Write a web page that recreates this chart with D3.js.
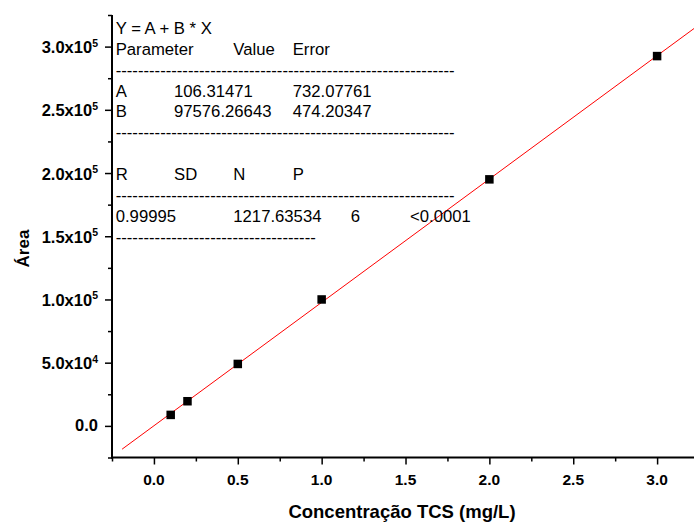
<!DOCTYPE html>
<html><head><meta charset="utf-8">
<script src="https://cdn.jsdelivr.net/npm/d3@7"></script>
<style>
body{margin:0;background:#fff;}
svg{display:block;font-family:Arial,"Liberation Sans",sans-serif;}
</style></head>
<body><svg id="c" width="694" height="523"></svg>
<script>
// ---- data ----
const concentration = [0.1, 0.2, 0.5, 1.0, 2.0, 3.0];
const area = [8700, 19500, 49000, 100000, 195000, 292500];
const fitA = 106.31471, fitB = 97576.26643;
const fitRange = [-0.19, 3.25];
const xTicks = [0.0, 0.5, 1.0, 1.5, 2.0, 2.5, 3.0];
const xTickLabels = ["0.0","0.5","1.0","1.5","2.0","2.5","3.0"];
const yTicks = [0, 50000, 100000, 150000, 200000, 250000, 300000];
const yTickMain = ["0.0","5.0x10","1.0x10","1.5x10","2.0x10","2.5x10","3.0x10"];
const yTickExp = ["","4","5","5","5","5","5"];
const boxHeader = ["Parameter","Value","Error"];
const paramNames = ["A","B"];
const paramValues = ["106.31471","97576.26643"];
const paramErrors = ["732.07761","474.20347"];
const statHeader = ["R","SD","N","P"];
const statValues = ["0.99995","1217.63534","6","<0.0001"];

const svg = d3.select("#c");
const L=112, R=694, T=15, B=457.5;
const x = d3.scaleLinear().domain([-0.25, 3.22]).range([L, R]);
const y = d3.scaleLinear().domain([-25000, 325000]).range([B, T]);

svg.append("defs").append("clipPath").attr("id","clip")
  .append("rect").attr("x",L).attr("y",0).attr("width",R-L).attr("height",B);

// axes
const xAxis = d3.axisBottom(x).tickValues(d3.range(-0.25,3.21,0.25)).tickSize(4).tickFormat("");
const gx = svg.append("g").attr("transform",`translate(0,${B})`).call(xAxis);
gx.select(".domain").remove();
gx.selectAll(".tick line").attr("stroke","#000").attr("stroke-width",1.5)
  .attr("y2", d => Math.abs(d*2 - Math.round(d*2))<1e-6 ? 7 : 4);
svg.append("line").attr("x1",L-1).attr("x2",R).attr("y1",B).attr("y2",B).attr("stroke","#000").attr("stroke-width",2);

const yAxis = d3.axisLeft(y).tickValues(d3.range(-25000,325001,25000)).tickSize(4).tickFormat("");
const gy = svg.append("g").attr("transform",`translate(${L},0)`).call(yAxis);
gy.select(".domain").remove();
gy.selectAll(".tick line").attr("stroke","#000").attr("stroke-width",1.5)
  .attr("x2", d => (d % 50000 === 0) ? -7 : -4);
svg.append("line").attr("x1",L).attr("x2",L).attr("y1",T).attr("y2",B+1).attr("stroke","#000").attr("stroke-width",2);

// x tick labels
svg.append("g").selectAll("text").data(xTicks).join("text")
  .attr("x", d=>x(d)).attr("y", B+27.5).attr("text-anchor","middle")
  .attr("font-size",15.5).attr("font-weight","bold").text((d,i)=>xTickLabels[i]);

// y tick labels
const yl = svg.append("g").selectAll("text").data(yTicks).join("text")
  .attr("x", 98).attr("y", (d,i)=> y(d) + (yTickExp[i] ? 6.5 : 5)).attr("text-anchor","end")
  .attr("font-size",16.5).attr("font-weight","bold");
yl.append("tspan").text((d,i)=>yTickMain[i]);
yl.append("tspan").attr("dy",-6.5).attr("font-size",10.5).text((d,i)=>yTickExp[i]);

// axis titles
svg.append("text").attr("x",(L+R)/2 - 1).attr("y",517.5).attr("text-anchor","middle")
  .attr("font-size",18.5).attr("font-weight","bold").text("Concentração TCS (mg/L)");
svg.append("text").attr("transform","translate(28.5,248.5) rotate(-90)").attr("text-anchor","middle")
  .attr("font-size",17).attr("font-weight","bold").text("Área");

// fit line
const line = d3.line().x(d=>x(d)).y(d=>y(fitA + fitB*d));
svg.append("path").attr("clip-path","url(#clip)").attr("d", line(fitRange))
  .attr("fill","none").attr("stroke","#ff0000").attr("stroke-width",1);

// points
svg.append("g").selectAll("rect").data(concentration).join("rect")
  .attr("x", d=>x(d)-4.25).attr("y",(d,i)=>y(area[i])-4.25).attr("width",8.5).attr("height",8.5)
  .attr("fill","#000");

// results box text
const box = svg.append("g").attr("font-size",16.7).attr("fill","#000");
const lh = 20.85, y0 = 34;
const cols = [115.7, 174, 233.3, 292.7, 350.7, 410];
function row(i, items){ items.forEach(([c,t])=> box.append("text").attr("x",c).attr("y",y0+lh*i).text(t)); }
row(0, [[cols[0],"Y = A + B * X"]]);
row(1, [[cols[0],boxHeader[0]],[cols[2],boxHeader[1]],[cols[3],boxHeader[2]]]);
const longDash = "-".repeat(61), shortDash = "-".repeat(36);
row(2, [[cols[0],longDash]]);
paramNames.forEach((n,k)=> row(3+k, [[cols[0],n],[cols[1],paramValues[k]],[cols[3],paramErrors[k]]]));
row(5, [[cols[0],longDash]]);
row(7, statHeader.map((h,k)=>[cols[k],h]));
row(8, [[cols[0],longDash]]);
row(9, [[cols[0],statValues[0]],[cols[2],statValues[1]],[cols[4],statValues[2]],[cols[5],statValues[3]]]);
row(10, [[cols[0],shortDash]]);
</script></body></html>
